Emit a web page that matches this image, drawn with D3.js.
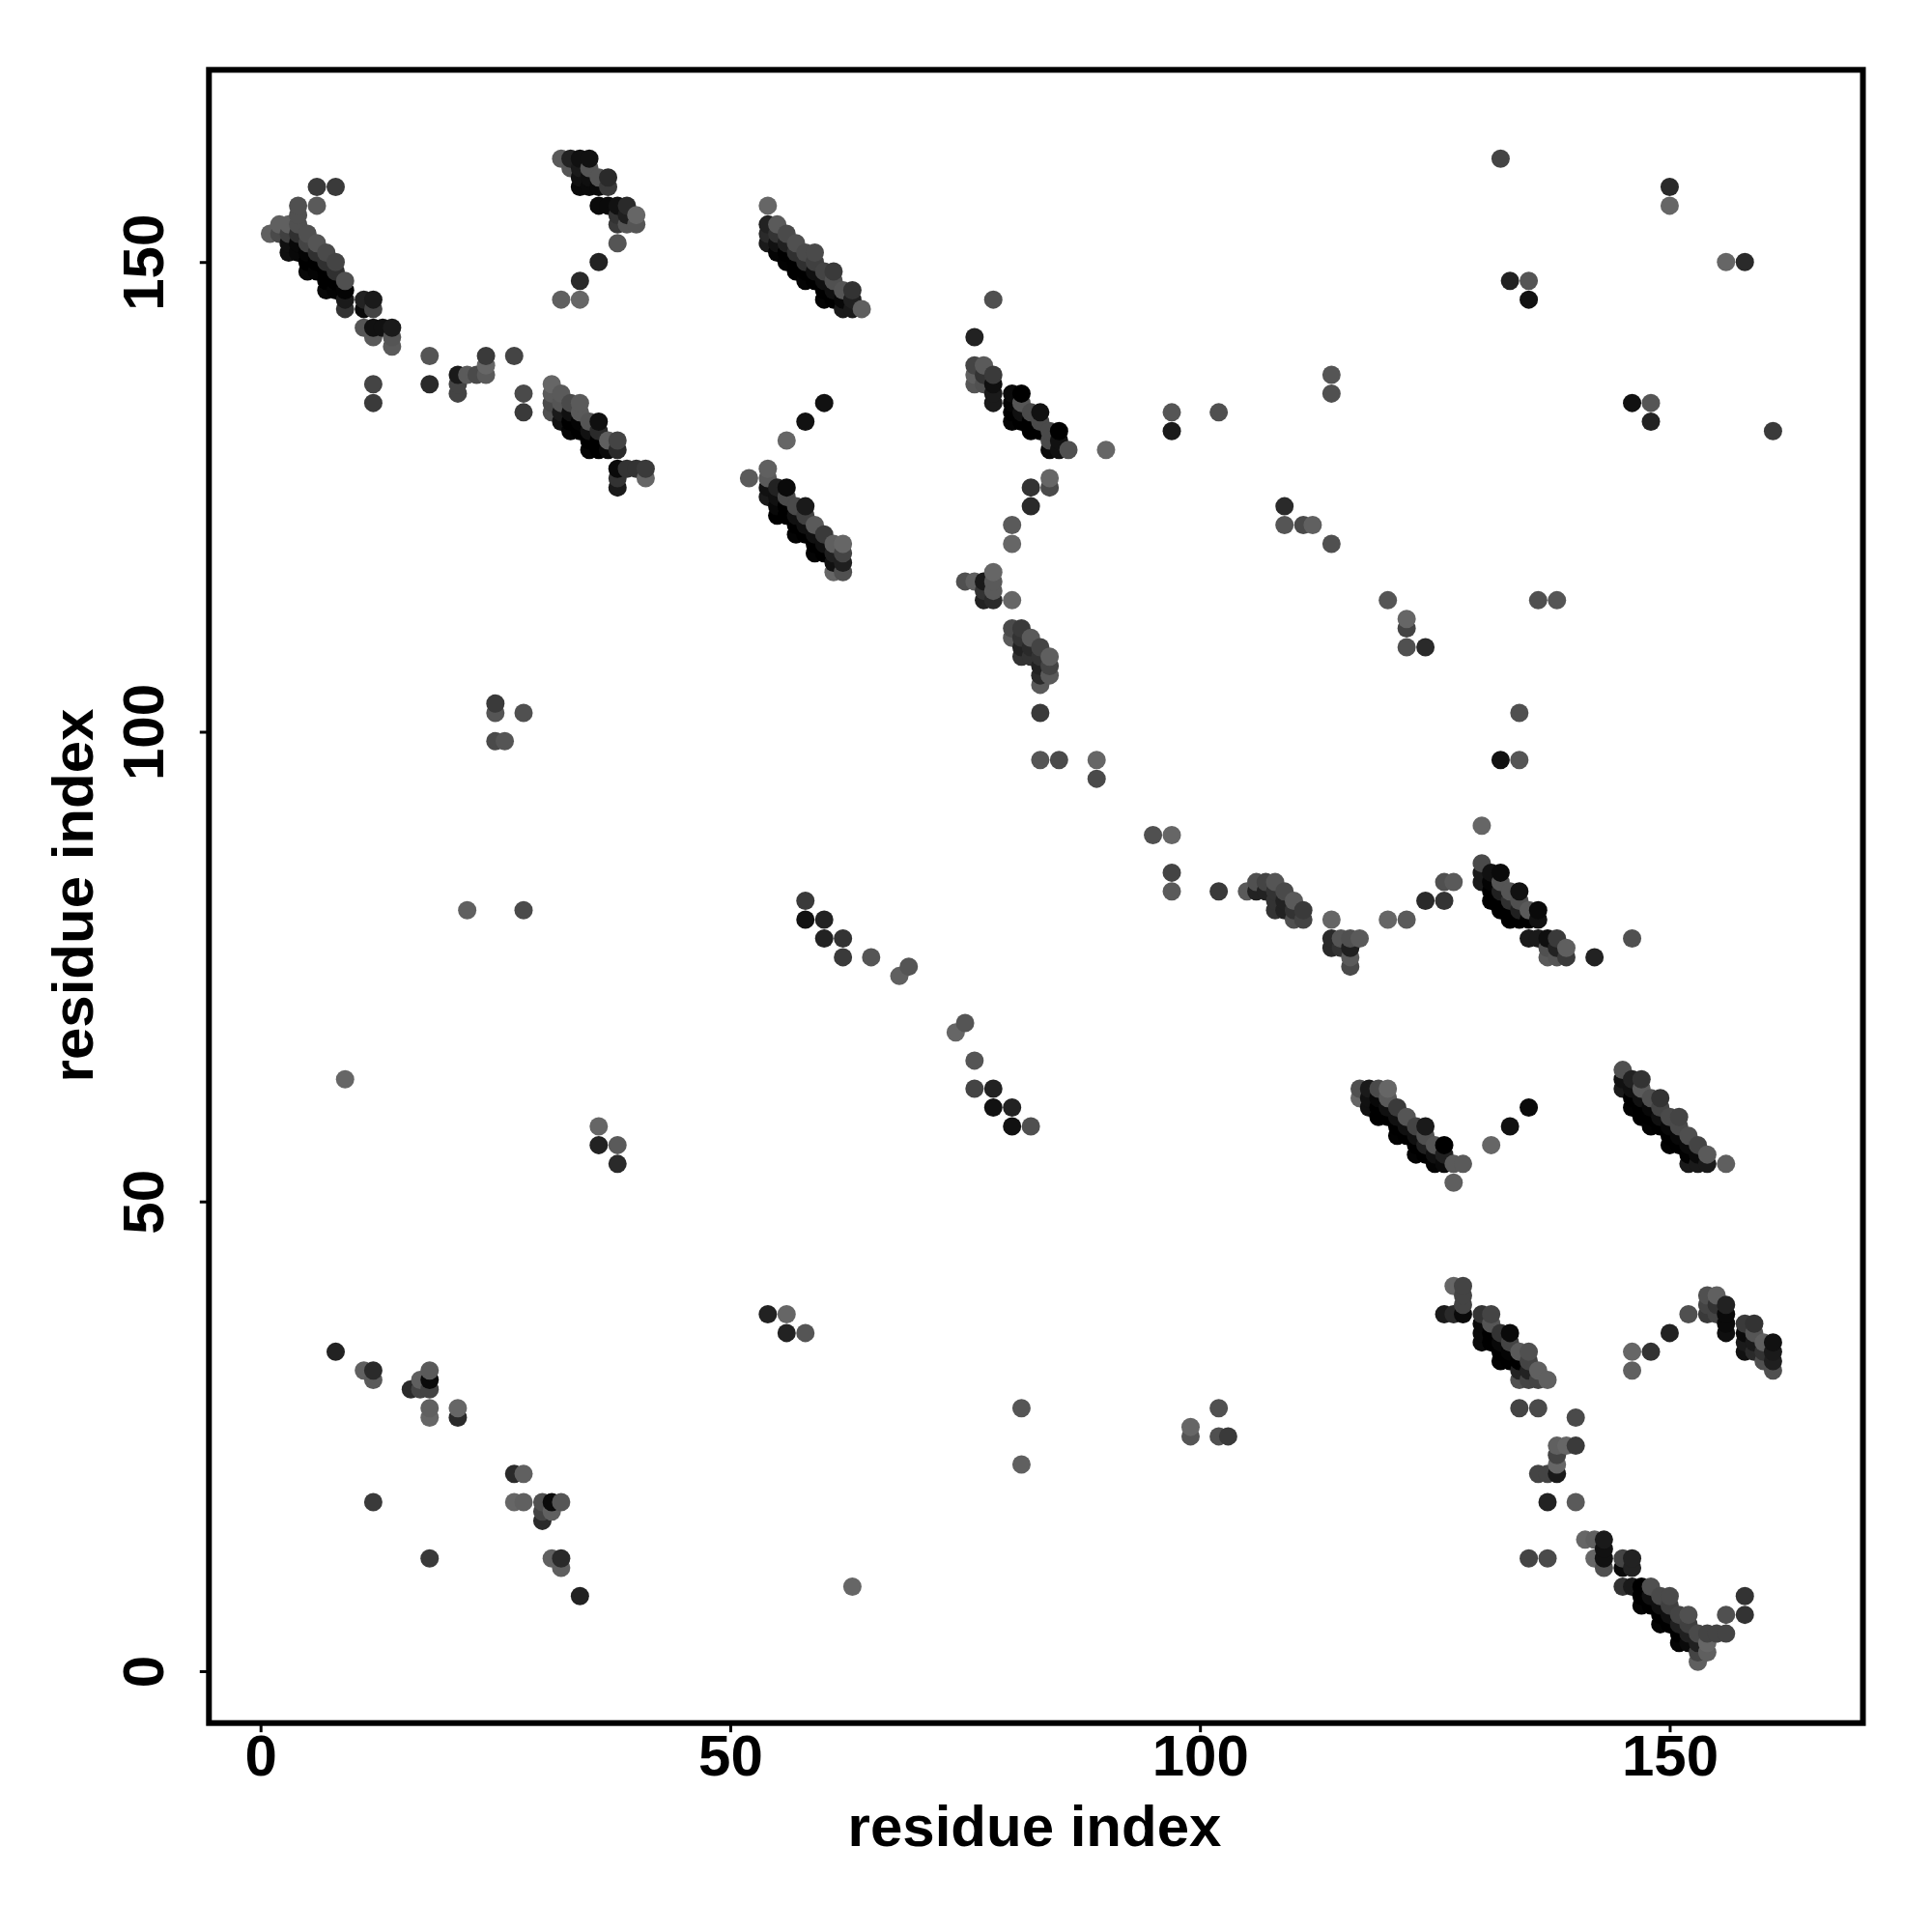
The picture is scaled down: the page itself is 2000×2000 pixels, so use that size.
<!DOCTYPE html>
<html><head><meta charset="utf-8">
<script src="https://cdnjs.cloudflare.com/ajax/libs/d3/7.8.5/d3.min.js"></script>
<style>html,body{margin:0;padding:0;background:#fff}svg{display:block}</style></head>
<body><svg id="c" width="2000" height="2000"></svg>
<script>
// Each contact: [residue i, residue j, gray level]
const bandA=[[1,153,0x60],[2,153,0x4a],[2,154,0x60],[3,151,0x0f],[3,152,0x10],[3,153,0x40],[3,154,0x60],
[4,151,0x08],[4,152,0x08],[4,153,0x30],[4,154,0x50],[4,155,0x50],[4,156,0x50],
[5,149,0x08],[5,150,0],[5,151,0x04],[5,152,0x44],[5,153,0x50],
[6,149,0x04],[6,150,0],[6,151,0x30],[6,152,0x55],[6,156,0x5a],[6,158,0x3a],
[7,147,0x08],[7,148,0],[7,149,0],[7,150,0x30],[7,151,0x4a],
[8,147,0x04],[8,148,0],[8,149,0x30],[8,150,0x44],[8,158,0x3a],
[9,145,0x33],[9,146,0x1a],[9,147,0x04],[9,148,0x50],
[11,143,0x55],[11,145,0x0a],[11,146,0x22],[12,135,0x3a],[12,137,0x44],[12,142,0x5a],[12,143,0x11],[12,145,0x44],[12,146,0x1a],
[13,143,0x11],[14,141,0x5a],[14,142,0x55],[14,143,0x1a]];
const bandB=[[32,146,0x5f],[34,146,0x66],[34,148,0x2a],[36,150,0x22],[38,152,0x55],
[32,161,0x5a],[33,160,0x55],[33,161,0x22],[34,158,0x0a],[34,159,0x11],[34,160,0x1a],[34,161,0x11],
[35,158,0x0a],[35,159,0x0f],[35,160,0x55],[35,161,0x11],[36,156,0x0a],[36,158,0x0a],[36,159,0x55],
[37,156,0x0a],[37,158,0x3a],[37,159,0x2a],[38,154,0x3a],[38,155,0x33],[38,156,0x11],
[39,154,0x55],[39,155,0x1f],[39,156,0x2a],[40,154,0x55],[40,155,0x66]];
const bandC=[[31,134,0x50],[31,135,0x4a],[31,136,0x5a],[31,137,0x66],[32,133,0x11],[32,134,0x1a],[32,135,0x55],[32,136,0x5a],
[33,132,0x04],[33,133,0],[33,134,0x10],[33,135,0x4a],[34,132,0],[34,133,0x04],[34,134,0x5a],[34,135,0x5a],
[35,130,0x04],[35,131,0],[35,132,0x11],[35,133,0x55],[36,130,0],[36,131,0],[36,132,0x2a],[36,133,0x0f],
[37,130,0x0a],[37,131,0x5f],[38,126,0x1a],[38,127,0x33],[38,128,0x0a],[38,130,0x2a],[38,131,0x44],
[39,128,0x33],[40,128,0x33],[41,127,0x66],[41,128,0x3a]];
const scatterA=[[18,137,0x2a],[18,140,0x55],[21,136,0x44],[21,137,0x44],[21,138,0x1a],[22,138,0x5a],[23,138,0x4a],
[24,138,0x5a],[24,139,0x66],[24,140,0x3a],[27,140,0x44],[28,134,0x3a],[28,136,0x4a]];
const bandD=[[54,156,0x66],[54,152,0x1a],[54,153,0x2a],[54,154,0x22],[55,151,0x04],[55,152,0x11],[55,153,0x33],[55,154,0x5a],
[56,150,0x02],[56,151,0],[56,152,0x20],[56,153,0x4a],[57,149,0],[57,150,0],[57,151,0x30],[57,152,0x50],
[58,148,0x04],[58,149,0],[58,150,0x30],[58,151,0x4a],[59,148,0],[59,149,0x10],[59,150,0x40],[59,151,0x4a],
[60,146,0x04],[60,147,0],[60,148,0x10],[60,149,0x44],[61,146,0],[61,147,0x10],[61,148,0x50],[61,149,0x3a],
[62,145,0x1a],[62,146,0x08],[62,147,0x55],[63,145,0x1a],[63,146,0x20],[63,147,0x33],[64,145,0x5f]];
const bandE=[[52,127,0x5a],[54,125,0x1a],[54,126,0x11],[54,127,0x5a],[54,128,0x60],[55,123,0],[55,124,0x08],[55,125,0x10],[55,126,0x22],
[56,123,0],[56,124,0],[56,125,0x4a],[56,126,0x0a],[56,131,0x66],[57,121,0x04],[57,122,0],[57,123,0x10],[57,124,0x4a],
[58,121,0],[58,122,0x10],[58,123,0x40],[58,124,0x1a],[58,133,0x11],[59,119,0x04],[59,120,0],[59,121,0x10],[59,122,0x5a],
[60,119,0],[60,120,0x10],[60,121,0x3a],[60,135,0x11],[61,117,0x66],[61,118,0x11],[61,119,0x20],[61,120,0x5f],
[62,117,0x50],[62,118,0x1f],[62,119,0x44],[62,120,0x66]];
const bandF=[[76,137,0x55],[76,138,0x5f],[76,139,0x44],[76,142,0x22],[77,137,0x50],[77,138,0x33],[77,139,0x5a],
[78,135,0x1a],[78,136,0x1a],[78,137,0x0f],[78,138,0x3a],[78,146,0x4f],
[80,133,0x04],[80,134,0],[80,135,0x04],[80,136,0x0a],[81,133,0],[81,134,0x10],[81,135,0x55],[81,136,0],
[82,132,0],[82,133,0],[82,134,0x4a],[83,132,0],[83,133,0x4a],[83,134,0x11],
[84,130,0x0a],[84,131,0x4a],[84,132,0x4a],[85,130,0x11],[85,131,0x11],[85,132,0],[86,130,0x50],[90,130,0x66],
[82,124,0x2a],[82,126,0x33],[84,126,0x4a],[84,127,0x66],[80,120,0x66],[80,122,0x5a]];
const bandG=[[75,116,0x50],[76,116,0x60],[77,114,0x22],[77,115,0x33],[77,116,0x1a],[78,114,0x2a],[78,115,0x5a],[78,116,0x5a],[78,117,0x66],[80,114,0x66],
[80,110,0x5a],[80,111,0x4a],[81,108,0x33],[81,109,0x22],[81,110,0x33],[81,111,0x3a],[82,108,0x33],[82,109,0x2a],[82,110,0x5a],
[83,105,0x5a],[83,106,0x2a],[83,107,0x22],[83,108,0x33],[83,109,0x44],[84,106,0x5a],[84,107,0x44],[84,108,0x5f],
[83,102,0x3a],[83,97,0x55],[85,97,0x4a],[89,97,0x66],[89,95,0x4a]];
const scatterB=[[132,161,0x44],[150,158,0x2a],[150,156,0x66],[156,150,0x66],[158,150,0x2a],[133,148,0x22],[135,148,0x55],[135,146,0x11],
[114,138,0x55],[114,136,0x50],[97,134,0x55],[97,132,0x1a],[102,134,0x50],[146,135,0x11],[148,135,0x55],[148,133,0x22],[161,132,0x3a],
[109,124,0x2a],[109,122,0x55],[111,122,0x4a],[112,122,0x60],[114,120,0x50],[120,114,0x55],[122,112,0x66],[122,111,0x44],[122,109,0x50],[124,109,0x2a],
[136,114,0x50],[138,114,0x55],[134,102,0x50],[132,97,0x11],[134,97,0x55]];
const scatterC=[[25,103,0x3a],[25,102,0x55],[28,102,0x50],[25,99,0x4a],[26,99,0x55],[22,81,0x60],[28,81,0x4a],[9,63,0x66],
[36,58,0x66],[36,56,0x22],[38,56,0x5a],[38,54,0x2a],[58,82,0x3a],[58,80,0x11],[60,80,0x22],[60,78,0x22],[62,78,0x33],[62,76,0x3a],
[65,76,0x55],[68,74,0x60],[69,75,0x55],[74,68,0x66],[75,69,0x55],[76,65,0x55],[76,62,0x44],[78,62,0x22],[78,60,0x11],[80,60,0x22],[80,58,0x11],[82,58,0x50],
[95,89,0x50],[97,89,0x66],[97,85,0x44],[97,83,0x5a]];
const bandH=[[102,83,0x3a],[105,83,0x5a],[106,83,0x22],[106,84,0x50],[107,83,0x22],[107,84,0x44],[108,81,0x33],[108,82,0x33],[108,83,0x33],[108,84,0x55],
[109,81,0x22],[109,82,0x22],[109,83,0x4a],[110,80,0x50],[110,81,0x33],[110,82,0x5a],[111,80,0x44],[111,81,0x3a],[114,80,0x66],
[114,77,0x2a],[114,78,0x2a],[115,77,0x33],[115,78,0x55],[116,75,0x4a],[116,76,0x5a],[116,77,0x1f],[116,78,0x50],[117,78,0x5a],
[120,80,0x66],[122,80,0x5a],[124,82,0x2a],[126,82,0x33],[126,84,0x50],[127,84,0x5a],[130,90,0x66],
[130,84,0x1a],[130,85,0x1a],[130,86,0x4a],[131,82,0],[131,83,0],[131,84,0x04],[131,85,0x11],[132,81,0],[132,82,0],[132,83,0x20],[132,84,0x55],[132,85,0x0a],
[133,80,0],[133,81,0],[133,82,0x30],[133,83,0x55],[134,80,0],[134,81,0x20],[134,82,0x50],[134,83,0x11],[135,80,0],[135,81,0x5a],[136,80,0x11],[136,81,0x0a],
[135,78,0x1a],[136,78,0x1a],[137,76,0x5a],[137,77,0x50],[137,78,0x0f],[138,76,0x55],[138,77,0x22],[138,78,0x3a],[139,76,0x3a],[139,77,0x5f],[142,76,0x22],[146,78,0x50]];
const bandI=[[117,61,0x66],[117,62,0x50],[118,60,0x10],[118,61,0x11],[118,62,0x1a],[119,59,0],[119,60,0],[119,61,0x08],[119,62,0x4a],
[120,59,0],[120,60,0x10],[120,61,0x5a],[120,62,0x66],[121,57,0x02],[121,58,0],[121,59,0x10],[121,60,0x3a],[122,57,0],[122,58,0x10],[122,59,0x55],
[123,55,0x04],[123,56,0],[123,57,0x10],[123,58,0x44],[124,55,0],[124,56,0x20],[124,57,0x50],[124,58,0x1a],
[125,54,0x04],[125,55,0x10],[125,56,0x55],[126,54,0x0a],[126,55,0x20],[126,56,0],[127,52,0x5f],[127,54,0x5a],[128,54,0x5a],
[131,56,0x66],[133,58,0x11],[135,60,0x0a]];
const bandJ=[[145,62,0x1a],[145,63,0x11],[145,64,0x50],[146,60,0x02],[146,61,0],[146,62,0x10],[146,63,0x22],[147,59,0],[147,60,0],[147,61,0x11],[147,62,0x5a],[147,63,0x33],
[148,58,0x02],[148,59,0],[148,60,0x08],[148,61,0x50],[149,58,0],[149,59,0x10],[149,60,0x44],[149,61,0x33],[150,56,0x02],[150,57,0],[150,58,0x08],[150,59,0x4a],
[151,56,0],[151,57,0x08],[151,58,0x4a],[151,59,0x44],[152,54,0x1a],[152,55,0x02],[152,56,0x0a],[152,57,0x4f],[153,54,0x1a],[153,55,0x0a],[153,56,0x44],[154,54,0x1a],[154,55,0x5a],[156,54,0x5f]];
const bandK=[[127,41,0x66],[128,38,0x0a],[128,39,0x44],[128,40,0x44],[128,41,0x44],[126,38,0x1a],[127,38,0x2a],
[130,35,0x0a],[130,36,0x0a],[130,37,0x0a],[130,38,0x33],[131,35,0],[131,36,0],[131,37,0x55],[131,38,0x44],
[132,33,0x02],[132,34,0],[132,35,0x08],[132,36,0x33],[133,33,0],[133,34,0x04],[133,35,0x44],[133,36,0x0a],
[134,31,0x50],[134,32,0x22],[134,33,0],[134,34,0x5a],[135,31,0x44],[135,32,0x22],[135,33,0x44],[135,34,0x50],[136,31,0x44],[136,32,0x60],[137,31,0x60],
[134,28,0x44],[136,28,0x4a],[140,27,0x4a],[138,24,0x60],[139,24,0x66],[140,24,0x3a],[138,23,0x44],[138,22,0x66],[138,21,0x1a],[136,21,0x44],[137,21,0x44],
[137,18,0x22],[140,18,0x5a],[135,12,0x44],[137,12,0x4a]];
const bandL=[[141,14,0x66],[142,14,0x60],[142,12,0x66],[143,11,0x50],[143,12,0x11],[143,13,0x11],[143,14,0x1a],[145,9,0x33],[145,11,0x0a],[145,12,0x44],[146,9,0x1a],[146,11,0x22],[146,12,0x22],
[147,7,0x04],[147,8,0],[147,9,0],[148,7,0],[148,8,0x10],[148,9,0x50],[149,5,0x04],[149,6,0],[149,7,0x10],[149,8,0x4a],[150,5,0],[150,6,0x10],[150,7,0x40],[150,8,0x4a],
[151,3,0x04],[151,4,0],[151,5,0x20],[151,6,0x44],[152,3,0x0a],[152,4,0x20],[152,5,0x40],[152,6,0x50],[153,1,0x5f],[153,2,0x44],[153,3,0x20],[153,4,0x4a],
[154,2,0x5f],[154,3,0x66],[154,4,0x44],[155,4,0x44],[156,4,0x44],[156,6,0x50],[158,6,0x33],[158,8,0x33]];
const bandM=[[146,32,0x60],[146,34,0x66],[148,34,0x33],[150,36,0x22],[152,38,0x50],[154,38,0x3a],[154,39,0x44],[154,40,0x50],[155,38,0x44],[155,39,0x33],[155,40,0x60],
[156,36,0x0f],[156,37,0x0a],[156,38,0x0a],[156,39,0x22],[158,34,0x11],[158,35,0x1a],[158,36,0x0a],[158,37,0x3a],[159,34,0x2a],[159,35,0x1a],[159,36,0x55],[159,37,0x33],
[160,33,0x50],[160,34,0x33],[160,35,0x5f],[161,32,0x50],[161,33,0x1f],[161,34,0x1a],[161,35,0x11]];
const bandN=[[8,34,0x22],[11,32,0x60],[12,31,0x5a],[12,32,0x2a],[16,30,0x2a],[17,30,0x44],[17,31,0x5f],[18,30,0x44],[18,31,0x0a],[18,32,0x5a],[18,27,0x66],[18,28,0x60],[21,27,0x2a],[21,28,0x66],
[27,21,0x2a],[28,21,0x60],[27,18,0x66],[28,18,0x60],[30,16,0x2a],[30,17,0x44],[30,18,0x50],[31,17,0x60],[31,18,0x0a],[32,18,0x55],[12,18,0x3a],[18,12,0x3a],[31,12,0x60],[32,11,0x5f],[32,12,0x2a],[34,8,0x22],
[63,9,0x66],[81,28,0x55],[81,22,0x60],[99,25,0x55],[99,26,0x66],[102,28,0x50],[102,25,0x50],[103,25,0x3a],[54,38,0x22],[56,38,0x66],[56,36,0x22],[58,36,0x55]];
const tickValues=[0,50,100,150];
const axisTitle="residue index";

const contacts=[].concat(bandA,bandB,bandC,scatterA,bandD,bandE,bandF,bandG,scatterB,scatterC,bandH,bandI,bandJ,bandK,bandL,bandM,bandN)
  .sort((a,b)=>d3.ascending(a[0],b[0])||d3.ascending(a[1],b[1]));

const left=216.3,right=1928.5,top_=72.3,bottom=1783.7,unit=9.725,x0=269.7,y0=1730;
const x=d3.scaleLinear().domain([(left-x0)/unit,(right-x0)/unit]).range([left,right]);
const y=d3.scaleLinear().domain([(y0-bottom)/unit,(y0-top_)/unit]).range([bottom,top_]);
const svg=d3.select("#c");
const font="'Liberation Sans',Arial,sans-serif";
const fontSize=60;

svg.append("g").selectAll("circle").data(contacts).join("circle")
  .attr("cx",d=>x(d[0])).attr("cy",d=>y(d[1])).attr("r",9.5)
  .attr("fill",d=>d3.rgb(d[2],d[2],d[2]).formatHex());

const ax=svg.append("g").attr("transform",`translate(0,${bottom})`)
  .call(d3.axisBottom(x).tickValues(tickValues).tickSize(9.5).tickSizeOuter(0));
ax.select(".domain").remove();
ax.selectAll("line").attr("stroke","#000").attr("stroke-width",3);
ax.selectAll("text").attr("font-family",font).attr("font-weight","bold").attr("font-size",fontSize)
  .attr("fill","#000").attr("y",0).attr("dy",0).attr("transform","translate(0,38)").attr("text-anchor","middle").attr("dominant-baseline","middle");

const ay=svg.append("g").attr("transform",`translate(${left},0)`)
  .call(d3.axisLeft(y).tickValues(tickValues).tickSize(9.5).tickSizeOuter(0));
ay.select(".domain").remove();
ay.selectAll("line").attr("stroke","#000").attr("stroke-width",3);
ay.selectAll("text").attr("font-family",font).attr("font-weight","bold").attr("font-size",fontSize)
  .attr("fill","#000").attr("x",0).attr("dy",0).attr("text-anchor","middle").attr("dominant-baseline","middle")
  .attr("transform","translate(-63,0) rotate(-90)");

svg.append("rect").attr("x",left).attr("y",top_).attr("width",right-left).attr("height",bottom-top_)
  .attr("fill","none").attr("stroke","#000").attr("stroke-width",6);

svg.append("text").attr("x",1071).attr("y",1895).attr("text-anchor","middle").attr("dominant-baseline","middle")
  .attr("font-family",font).attr("font-weight","bold").attr("font-size",fontSize).text(axisTitle);
svg.append("text").attr("transform","translate(80,927) rotate(-90)").attr("text-anchor","middle").attr("dominant-baseline","middle")
  .attr("font-family",font).attr("font-weight","bold").attr("font-size",fontSize).text(axisTitle);
</script></body></html>
